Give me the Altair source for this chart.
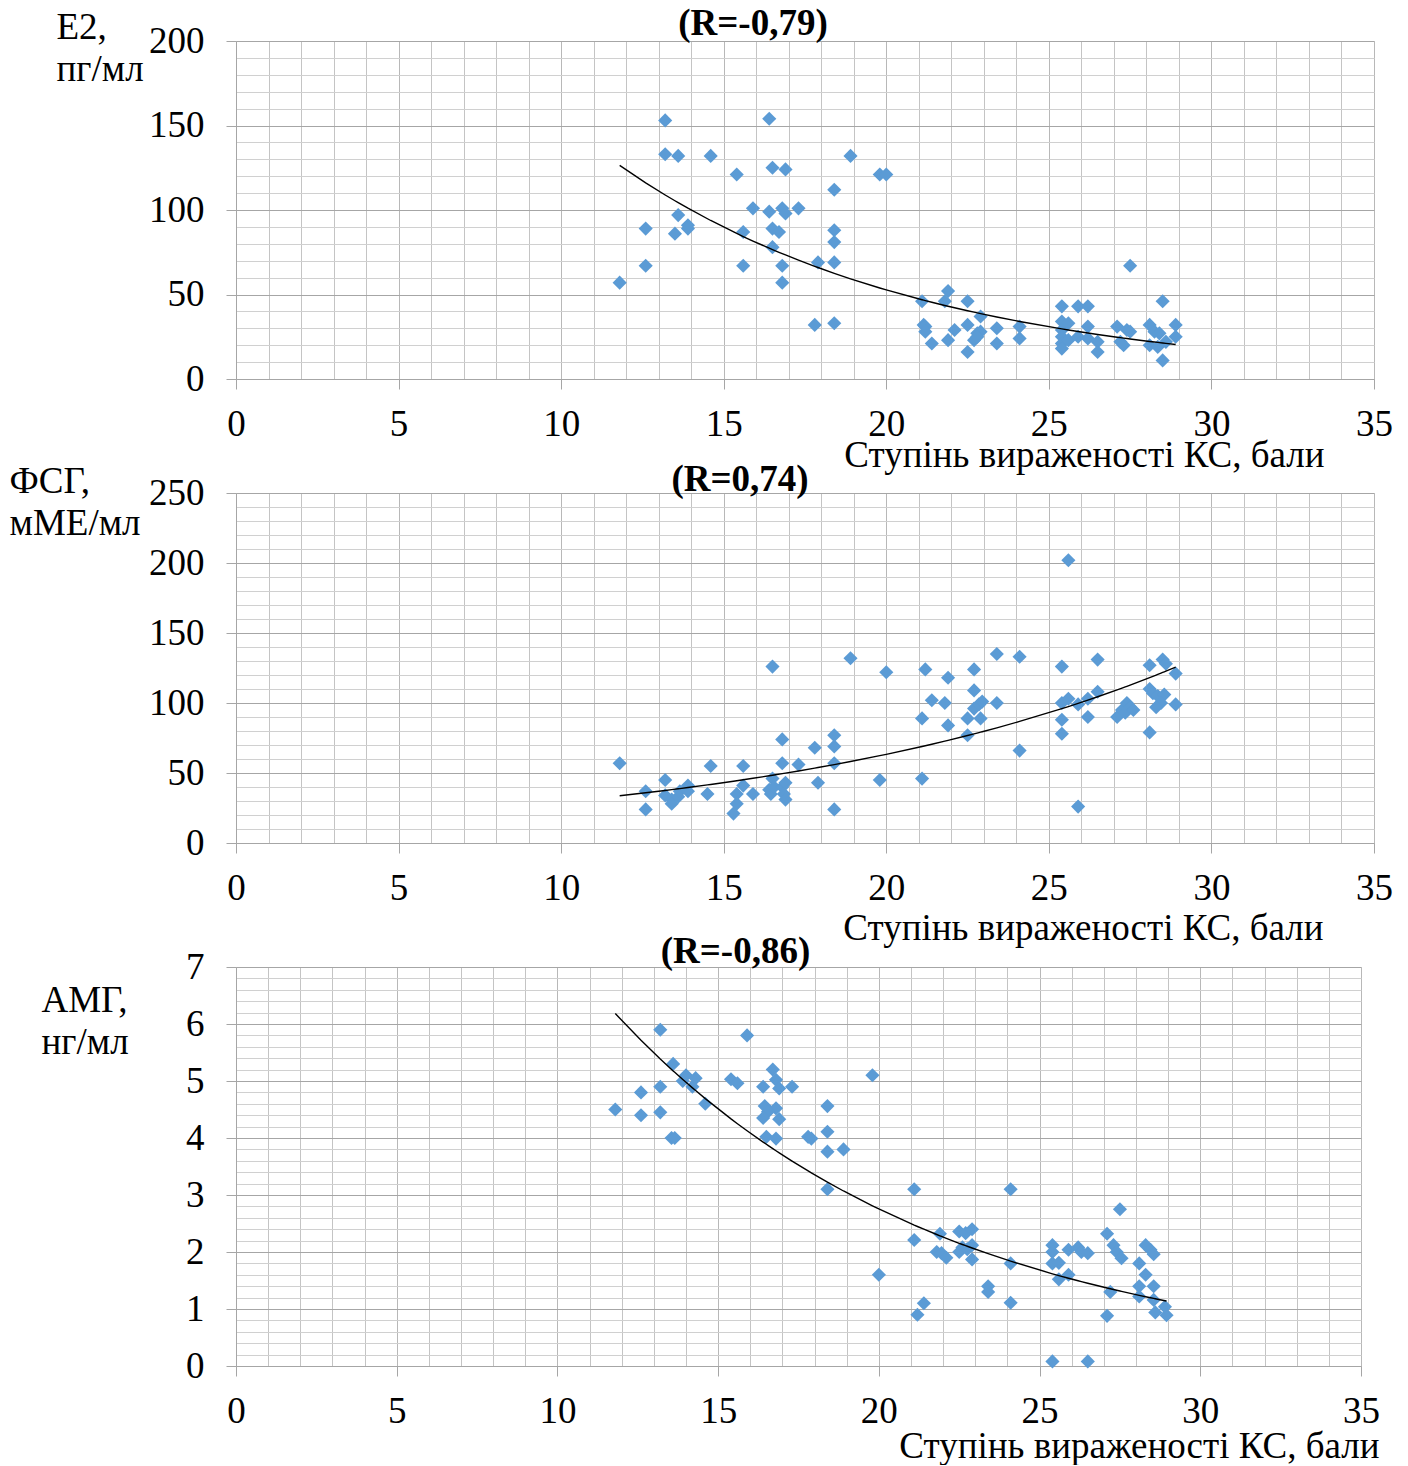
import altair as alt
import pandas as pd

# ---- data ----
e2_x = [11.8, 12.6, 12.6, 13.2, 13.2, 13.6, 13.6, 13.5, 13.9, 13.9, 14.6, 15.4, 15.6, 15.6, 15.9,
        16.4, 16.5, 16.4, 16.5, 16.7, 16.5, 16.8, 16.9, 16.9, 16.8, 16.8, 17.3, 17.9, 17.8, 18.4,
        18.4, 18.4, 18.4, 18.4, 18.9, 19.8, 20.0, 21.1, 21.9, 21.8, 22.5, 21.15, 21.2, 21.2, 21.4,
        21.9, 22.1, 22.5, 22.5, 22.7, 22.8, 22.9, 22.8, 22.9, 23.4, 23.4, 24.1, 24.1, 25.4, 25.9,
        26.2, 25.4, 25.6, 25.4, 25.4, 25.4, 25.4, 25.6, 25.9, 26.2, 26.2, 26.5, 26.5, 27.5, 27.1,
        27.4, 27.5, 27.2, 27.3, 28.5, 28.1, 28.25, 28.4, 28.1, 28.35, 28.6, 28.5, 28.9, 28.9]
e2_y = [57, 67, 89, 153, 133, 132, 97, 86, 91, 89, 132, 121, 87, 67, 101,
        154, 125, 99, 89, 87, 78, 101, 98, 124, 67, 57, 101, 69, 32, 112,
        88, 81, 69, 33, 132, 121, 121, 46, 52, 46, 46, 32, 31, 28, 21,
        23, 29, 32, 16, 23, 27, 28, 25, 37, 30, 21, 31, 24, 43, 43,
        43, 34, 33, 29, 25, 21, 18, 23, 25, 31, 24, 22, 16, 67, 31,
        29, 28, 22, 20, 46, 32, 28, 27, 20, 19, 22, 11, 32, 25]

fsh_x = [11.8, 12.6, 12.6, 13.2, 13.2, 13.4, 13.4, 13.6, 13.65, 13.9, 13.9, 14.6, 14.5, 15.6, 15.6,
         15.4, 15.4, 15.3, 15.9, 16.5, 16.5, 16.4, 16.45, 16.55, 16.8, 16.8, 16.8, 16.9, 16.85, 16.9,
         17.3, 17.8, 17.9, 18.4, 18.4, 18.4, 18.4, 18.9, 19.8, 20.0, 21.1, 21.1, 21.2, 21.4, 21.8,
         21.9, 21.9, 22.5, 22.5, 22.7, 22.7, 22.7, 22.85, 22.95, 22.9, 23.4, 23.4, 24.1, 24.1, 25.4,
         25.4, 25.6, 25.4, 25.4, 25.6, 25.9, 25.9, 26.2, 26.2, 26.5, 26.5, 27.1, 27.25, 27.4, 27.5,
         27.35, 27.6, 28.1, 28.1, 28.2, 28.35, 28.55, 28.45, 28.3, 28.1, 28.5, 28.6, 28.9, 28.9]
fsh_y = [57, 37, 24, 45, 34, 31, 28, 33, 37, 41, 37, 55, 35, 55, 41,
         35, 28, 21, 35, 126, 46, 38, 35, 40, 74, 57, 40, 43, 35, 31,
         56, 68, 43, 77, 69, 57, 24, 132, 45, 122, 46, 89, 124, 102, 100,
         118, 84, 89, 77, 124, 109, 96, 99, 101, 89, 135, 100, 133, 66, 126,
         100, 103, 88, 78, 202, 99, 26, 103, 90, 131, 108, 90, 95, 100, 97,
         93, 95, 127, 110, 107, 105, 106, 100, 97, 79, 131, 128, 121, 99]

amh_x = [11.8, 12.6, 12.6, 13.2, 13.2, 13.2, 13.55, 13.65, 13.6, 14.0, 13.9, 14.2, 14.3, 14.6, 15.4,
         15.6, 15.9, 16.4, 16.7, 16.8, 16.9, 17.3, 16.45, 16.8, 16.55, 16.4, 16.9, 16.5, 16.8, 17.8,
         17.9, 18.4, 18.4, 18.4, 18.9, 19.8, 18.4, 21.1, 21.1, 20.0, 21.4, 21.2, 21.9, 21.8, 21.95,
         22.1, 22.5, 22.7, 22.9, 22.5, 22.6, 22.75, 22.9, 22.9, 23.4, 23.4, 24.1, 24.1, 24.1, 25.4,
         25.4, 25.4, 25.6, 25.6, 25.9, 26.2, 26.3, 26.5, 25.9, 25.4, 26.5, 27.5, 27.1, 27.3, 27.4,
         27.55, 27.2, 27.1, 28.3, 28.45, 28.55, 28.1, 28.3, 28.1, 28.55, 28.1, 28.55, 28.9, 28.6, 28.95]
amh_y = [4.5, 4.8, 4.4, 5.9, 4.9, 4.45, 4.0, 4.0, 5.3, 5.1, 5.0, 4.9, 5.05, 4.6, 5.03,
         4.96, 5.8, 4.9, 5.2, 5.02, 4.87, 4.9, 4.56, 4.52, 4.46, 4.35, 4.33, 4.02, 3.99, 4.02,
         3.99, 4.56, 4.11, 3.76, 3.8, 5.1, 3.1, 3.1, 2.21, 1.6, 1.1, 0.9, 2.32, 2.0, 1.98,
         1.9, 2.36, 2.33, 2.4, 2.0, 2.08, 2.05, 2.12, 1.87, 1.4, 1.3, 3.1, 1.8, 1.11, 2.12,
         2.0, 1.8, 1.81, 1.52, 2.04, 2.08, 2.0, 1.98, 1.6, 0.08, 0.08, 2.75, 2.32, 2.12, 2.0,
         1.89, 1.3, 0.88, 2.12, 2.04, 1.96, 1.8, 1.6, 1.4, 1.4, 1.22, 1.16, 1.04, 0.94, 0.89]

x_title = "Ступінь вираженості КС, бали"

FONT = "Liberation Serif"
BLUE = "#5B9BD5"
FS = 37


def panel(xs, ys, ymax, ystep, ymajor, width, height, title, title_dx, title_dy,
          ytitle, ytitle_x, ytitle_y, xtitle_x, xtitle_y):
    df = pd.DataFrame({"x": xs, "y": ys})
    n = int(round(ymax / ystep))
    yvals = [round(i * ystep, 2) for i in range(n + 1)]
    ytest = f"abs(datum.value/{ymajor} - round(datum.value/{ymajor})) < 0.001"
    xtest = "datum.value % 5 === 0"
    xaxis = alt.Axis(
        values=list(range(36)),
        labelExpr=f"{xtest} ? format(datum.value, 'd') : ''",
        grid=True,
        gridColor={"condition": {"test": xtest, "value": "#b8b8b8"}, "value": "#c4c4c4"},
        gridWidth=1,
        domainColor="#a6a6a6",
        tickColor="#a6a6a6",
        tickSize=10,
        tickOpacity={"condition": {"test": xtest, "value": 1}, "value": 0},
        labelFont=FONT, labelFontSize=FS, labelColor="black",
        labelBaseline="alphabetic", labelPadding=46,
        labelFlush=False, labelOverlap=False,
        title=x_title, titleFont=FONT, titleFontSize=FS, titleFontWeight="normal",
        titleColor="black", titleAlign="right", titleBaseline="alphabetic",
        titleAngle=0, titleX=xtitle_x, titleY=xtitle_y,
    )
    yaxis = alt.Axis(
        values=yvals,
        labelExpr=f"{ytest} ? format(datum.value, 'd') : ''",
        grid=True,
        gridColor={"condition": {"test": ytest, "value": "#a6a6a6"}, "value": "#d0d0d0"},
        gridWidth=1,
        domainColor="#a6a6a6",
        tickColor="#a6a6a6",
        tickSize=10,
        tickOpacity={"condition": {"test": ytest, "value": 1}, "value": 0},
        labelFont=FONT, labelFontSize=FS, labelColor="black",
        labelPadding=22, labelOverlap=False, labelFlush=False,
        title=ytitle, titleFont=FONT, titleFontSize=FS, titleFontWeight="normal",
        titleColor="black", titleAngle=0, titleAlign="left", titleBaseline="alphabetic",
        titleX=ytitle_x, titleY=ytitle_y, titleLineHeight=42,
    )
    xscale = alt.Scale(domain=[0, 35], nice=False, zero=False)
    yscale = alt.Scale(domain=[0, ymax], nice=False, zero=True)
    pts = alt.Chart(df).mark_point(shape="diamond", filled=True, size=200, color=BLUE,
                                   opacity=1, strokeWidth=0).encode(
        x=alt.X("x:Q", scale=xscale, axis=xaxis),
        y=alt.Y("y:Q", scale=yscale, axis=yaxis),
    )
    # Exponential trendline (least squares on ln y, as a spreadsheet trendline does)
    line = alt.Chart(df).transform_calculate(
        ly="log(datum.y)", xly="datum.x * log(datum.y)", xx="datum.x * datum.x"
    ).transform_joinaggregate(
        sx="sum(x)", sly="sum(ly)", sxly="sum(xly)", sxx="sum(xx)", n="count()"
    ).transform_calculate(
        b="(datum.n * datum.sxly - datum.sx * datum.sly) / (datum.n * datum.sxx - datum.sx * datum.sx)"
    ).transform_calculate(
        a="(datum.sly - datum.b * datum.sx) / datum.n"
    ).transform_calculate(
        fit="exp(datum.a + datum.b * datum.x)"
    ).mark_line(color="black", strokeWidth=1.4).encode(
        x=alt.X("x:Q", scale=xscale, axis=xaxis, sort=None),
        y=alt.Y("fit:Q", scale=yscale, axis=yaxis),
        order=alt.Order("x:Q"),
    )
    return alt.layer(pts, line).properties(
        width=width, height=height,
        title=alt.TitleParams(text=title, font=FONT, fontSize=FS, fontWeight="bold",
                              color="black", anchor="middle", frame="group", dx=title_dx,
                              dy=title_dy, offset=0, baseline="alphabetic"),
    )


def spacer(h):
    return alt.Chart(pd.DataFrame({"v": [0]})).mark_point(opacity=0, size=0).encode(
        x=alt.X("v:Q", axis=None), y=alt.Y("v:Q", axis=None)
    ).properties(width=1, height=h, view=alt.ViewBackground(strokeWidth=0, fill=None, stroke=None))


p1 = panel(e2_x, e2_y, 200, 10, 50, 1138, 338, "(R=-0,79)", -52, 64,
           ["E2,", "пг/мл"], -180, -3, 1088, 87)
p2 = panel(fsh_x, fsh_y, 250, 10, 50, 1138, 350, "(R=0,74)", -65, 66,
           ["ФСГ,", "мМЕ/мл"], -227, -1, 1087, 96)
p3 = panel(amh_x, amh_y, 7, 0.2, 1, 1125, 399, "(R=-0,86)", -63, 52,
           ["АМГ,", "нг/мл"], -195, 44, 1143, 91)

chart = alt.VConcatChart(
    vconcat=[p1, spacer(114), p2, spacer(124), p3], spacing=0, bounds="flush"
).properties(
    padding={"top": -4, "left": 0, "right": 0, "bottom": 0}
).configure_view(stroke=None).configure(background="white")

chart.save("out.html", embed_options={"renderer": "svg", "actions": False})
